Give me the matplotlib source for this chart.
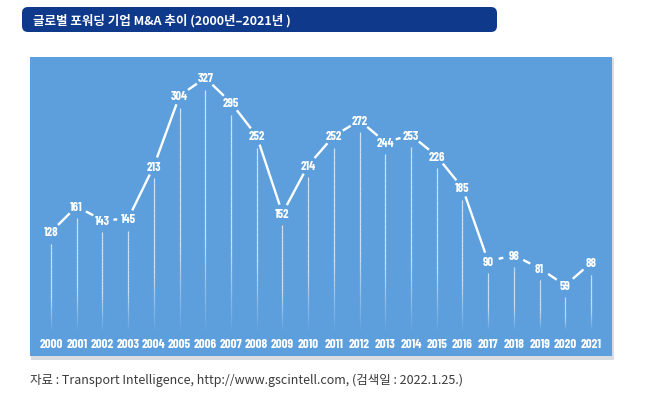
import matplotlib
matplotlib.use('Agg')
import numpy as np
from matplotlib import pyplot as plt
from matplotlib.patches import FancyBboxPatch, Rectangle
from matplotlib.collections import LineCollection

years = list(range(2000, 2022))
deals = [128, 161, 143, 145, 213, 304, 327, 295, 252, 152, 214,
         252, 272, 244, 253, 226, 185, 90, 98, 81, 59, 88]

title = '글로벌 포워딩 기업 M&A 추이 (2000년–2021년 )'
source = '자료 : Transport Intelligence, http://www.gscintell.com, (검색일 : 2022.1.25.)'

W, H = 645, 402
panel_blue = '#5d9fdd'
navy = '#0f3a8c'
num_font = ['Barlow Condensed', 'DejaVu Sans']
kr_font = ['Noto Sans CJK KR', 'DejaVu Sans']

fig = plt.figure(figsize=(W / 100, H / 100), dpi=100)

# background layer in pixel units
bg = fig.add_axes([0, 0, 1, 1])
bg.set_xlim(0, W)
bg.set_ylim(H, 0)
bg.axis('off')

bg.add_patch(FancyBboxPatch((22, 8), 475, 25, boxstyle='round,pad=0,rounding_size=6',
                            facecolor=navy, edgecolor='none'))
bg.text(33, 20.5, title, color='white', fontsize=9, va='center', ha='left',
        family=kr_font, fontweight='bold')

bg.add_patch(Rectangle((31, 59), 583, 302, facecolor='#d9dde2', edgecolor='none'))
bg.add_patch(Rectangle((30, 58), 582, 299, facecolor=panel_blue, edgecolor='none'))

bg.text(30, 380, source, color='#3a3a3a', fontsize=9, va='center', ha='left', family=kr_font)

# chart axes over the blue panel
left, right, top, bottom = 30, 612, 58, 357
ax = fig.add_axes([left / W, (H - bottom) / H, (right - left) / W, (bottom - top) / H])
ax.set_facecolor('none')
ax.axis('off')
step = (591 - 51) / 21
ax.set_xlim(2000 - (51 - left) / step, 2021 + (right - 591) / step)
ax.set_ylim(-32.3, 354)

fig.canvas.draw()
to_px = ax.transData
to_data = ax.transData.inverted()

# vertical stems fading toward the bottom
segs, cols = [], []
for x, v in zip(years, deals):
    px, py = to_px.transform((x, v))
    y0 = py - 12
    y1 = 27 + (H - bottom)
    n = 30
    ys = np.linspace(y0, y1, n + 1)
    for i in range(n):
        a = 0.7 if i < n * 0.6 else 0.7 * (n - i) / (n * 0.4)
        p0 = to_data.transform((px, ys[i]))
        p1 = to_data.transform((px, ys[i + 1]))
        segs.append([p0, p1])
        cols.append((1, 1, 1, a))
ax.add_collection(LineCollection(segs, colors=cols, linewidths=0.9))

# connecting segments with gaps around the labels
for i in range(len(years) - 1):
    p0 = to_px.transform((years[i], deals[i]))
    p1 = to_px.transform((years[i + 1], deals[i + 1]))
    d = p1 - p0
    u = d / np.hypot(*d)
    gap = 1 / np.sqrt((u[0] / 11) ** 2 + (u[1] / 9) ** 2)
    a = to_data.transform(p0 + u * gap)
    b = to_data.transform(p1 - u * gap)
    ax.plot([a[0], b[0]], [a[1], b[1]], color='white', lw=1.7, solid_capstyle='butt')

for x, v in zip(years, deals):
    ax.text(x, v, str(v), color='white', fontsize=9, fontweight='bold',
            ha='center', va='center', family=num_font)

for x in years:
    ax.text(x, (bottom - 345) / (bottom - top), str(x), color='white', fontsize=9.3,
            fontweight='bold', ha='center', va='center', family=num_font,
            transform=ax.get_xaxis_transform())

fig.savefig('out.png', dpi=100)
plt.close(fig)
